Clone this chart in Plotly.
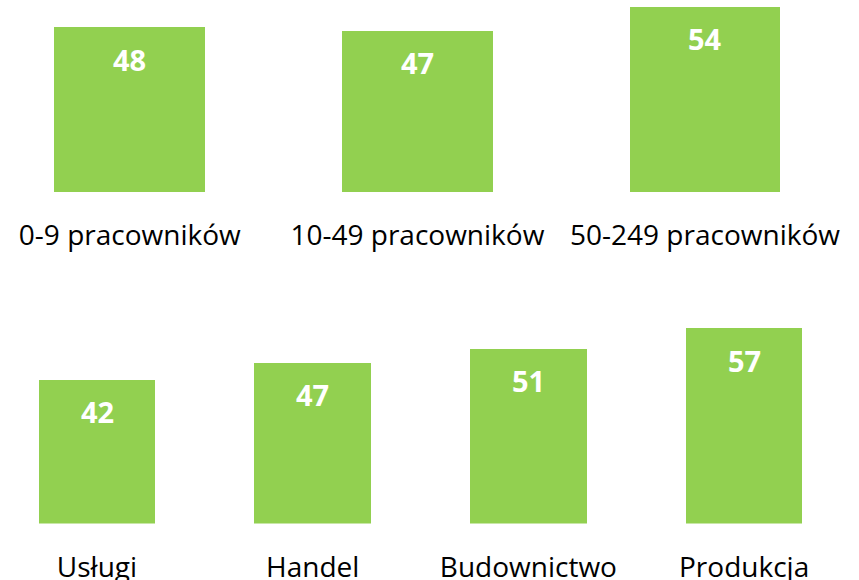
import plotly.graph_objects as go
from plotly.subplots import make_subplots

# Data
size_labels = ['0-9 pracowników', '10-49 pracowników', '50-249 pracowników']
size_values = [48, 47, 54]
sector_labels = ['Usługi', 'Handel', 'Budownictwo', 'Produkcja']
sector_values = [42, 47, 51, 57]

GREEN = '#92D050'
FONT = 'Open Sans'

fig = make_subplots(rows=2, cols=1)

fig.add_trace(go.Bar(
    x=list(range(len(size_labels))), y=size_values,
    width=0.525, marker=dict(color=GREEN, line=dict(width=0)),
    hoverinfo='skip', showlegend=False
), row=1, col=1)

fig.add_trace(go.Bar(
    x=list(range(len(sector_labels))), y=sector_values,
    width=0.54, marker=dict(color=GREEN, line=dict(width=0)),
    hoverinfo='skip', showlegend=False
), row=2, col=1)

# value labels inside bars, near top
for i, v in enumerate(size_values):
    fig.add_annotation(x=i, y=v, xref='x', yref='y', text=f'<b>{v}</b>',
                       showarrow=False, yanchor='middle', yshift=-32,
                       font=dict(family=FONT, size=29, color='white'))
for i, v in enumerate(sector_values):
    fig.add_annotation(x=i, y=v, xref='x2', yref='y2', text=f'<b>{v}</b>',
                       showarrow=False, yanchor='middle', yshift=-32,
                       font=dict(family=FONT, size=29, color='white'))

fig.update_layout(
    width=859, height=580,
    margin=dict(l=0, r=0, t=0, b=0, autoexpand=False),
    paper_bgcolor='white', plot_bgcolor='white',
    font=dict(family=FONT, size=28, color='black'),
    bargap=0,
    xaxis=dict(domain=[0, 1], range=[-0.4513, 2.5355],
               tickvals=list(range(len(size_labels))), ticktext=size_labels,
               showgrid=False, zeroline=False, showline=False,
               ticks='', ticklabelstandoff=24, automargin=False),
    yaxis=dict(domain=[0.669, 1], range=[0, 56], visible=False),
    xaxis2=dict(domain=[0, 1], range=[-0.4497, 3.5327],
                tickvals=list(range(len(sector_labels))), ticktext=sector_labels,
                showgrid=False, zeroline=False, showline=False,
                ticks='', ticklabelstandoff=24, automargin=False),
    yaxis2=dict(domain=[0.0974, 0.4522], range=[0, 60], visible=False),
)

# drop the default 8px body margin so the figure fills the window
fig.write_html("out.html", config={'displayModeBar': False},
               post_script="document.body.style.margin='0';")
